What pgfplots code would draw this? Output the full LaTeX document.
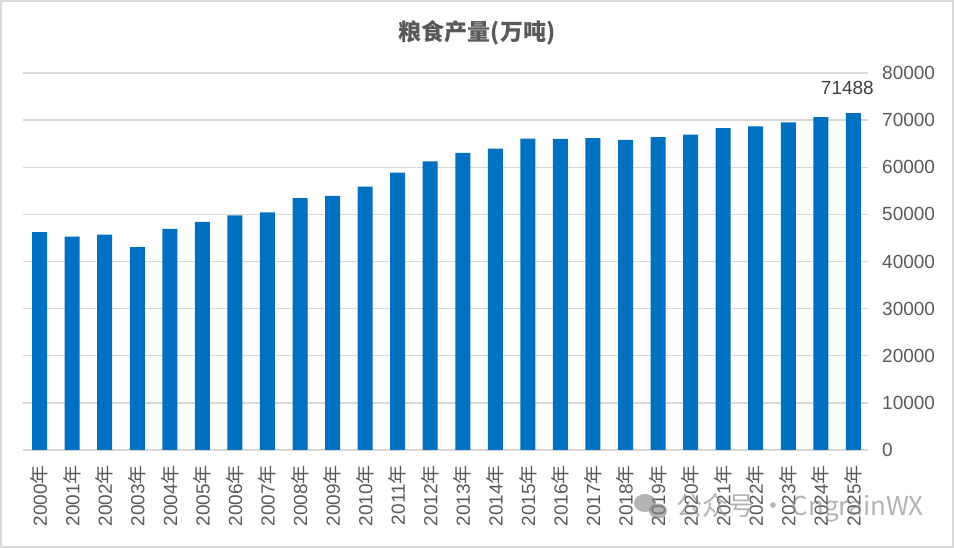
\documentclass[border=0pt]{standalone}
\usepackage{fontspec}
\setmainfont{Liberation Sans}
\newfontfamily\cjk{Noto Sans CJK SC}
\usepackage{pgfplots}
\pgfplotsset{compat=1.18}
\definecolor{barblue}{HTML}{0070C0}
\definecolor{txtgray}{HTML}{595959}
\definecolor{lblgray}{HTML}{404040}
\definecolor{gridgray}{HTML}{D9D9D9}

\begin{document}
\begin{tikzpicture}[x=1pt,y=1pt]
\useasboundingbox (0,0) rectangle (954,548);
\draw[gridgray, line width=2pt] (1,1) rectangle (953,547);
% title
\node[font=\cjk\bfseries\fontsize{23}{27}\selectfont, text=txtgray] at (477,515) {粮食产量(万吨)};

\begin{axis}[
    at={(23pt,98pt)}, anchor=south west,
    scale only axis, width=845pt, height=377pt,
    xmin=1999.49, xmax=2025.45,
    ymin=0, ymax=80000,
    axis line style={draw=none},
    major tick length=0pt,
    ymajorgrids,
    grid style={draw=gridgray, line width=1.5pt},
    ytick={0,10000,...,80000},
    scaled y ticks=false,
    yticklabel pos=right,
    yticklabel style={anchor=west, inner sep=0pt, xshift=14pt, font=\fontsize{19}{22}\selectfont, text=txtgray},
    xtick={2000,...,2025},
    xticklabels={2000{\cjk 年},2001{\cjk 年},2002{\cjk 年},2003{\cjk 年},2004{\cjk 年},2005{\cjk 年},2006{\cjk 年},2007{\cjk 年},2008{\cjk 年},2009{\cjk 年},2010{\cjk 年},2011{\cjk 年},2012{\cjk 年},2013{\cjk 年},2014{\cjk 年},2015{\cjk 年},2016{\cjk 年},2017{\cjk 年},2018{\cjk 年},2019{\cjk 年},2020{\cjk 年},2021{\cjk 年},2022{\cjk 年},2023{\cjk 年},2024{\cjk 年},2025{\cjk 年}},
    xticklabel style={rotate=90, anchor=east, inner sep=0pt, font=\fontsize{19}{22}\selectfont, text=txtgray},
    xticklabel shift=15pt,
    /pgf/number format/1000 sep={},
    /pgf/number format/fixed,
    /pgf/number format/assume math mode=true,
]
\addplot[ybar, bar width=15pt, fill=barblue, draw=none] coordinates {
    (2000,46218) (2001,45264) (2002,45706) (2003,43070) (2004,46947)
    (2005,48402) (2006,49804) (2007,50413) (2008,53434) (2009,53941)
    (2010,55911) (2011,58849) (2012,61223) (2013,63048) (2014,63965)
    (2015,66060) (2016,66044) (2017,66161) (2018,65789) (2019,66384)
    (2020,66949) (2021,68285) (2022,68653) (2023,69541) (2024,70650)
    (2025,71488)
};
% data label for the last year only
\addplot[draw=none, mark=none, point meta=y, nodes near coords,
    nodes near coords style={anchor=south, inner sep=0pt, yshift=18pt, xshift=-6pt,
        font=\fontsize{19}{22}\selectfont, text=lblgray}]
    coordinates {(2025,71488)};
\end{axis}

% watermark
\begin{scope}[opacity=0.6]
\fill[gray] (645,45) ellipse (11 and 9);
\fill[gray] (658,37) ellipse (9 and 7.5);
\node[anchor=west, inner sep=0pt, text=gray, font=\cjk\fontsize{26}{30}\selectfont] at (676,40) {公众号 · CngrainWX};
\end{scope}
\end{tikzpicture}
\end{document}
